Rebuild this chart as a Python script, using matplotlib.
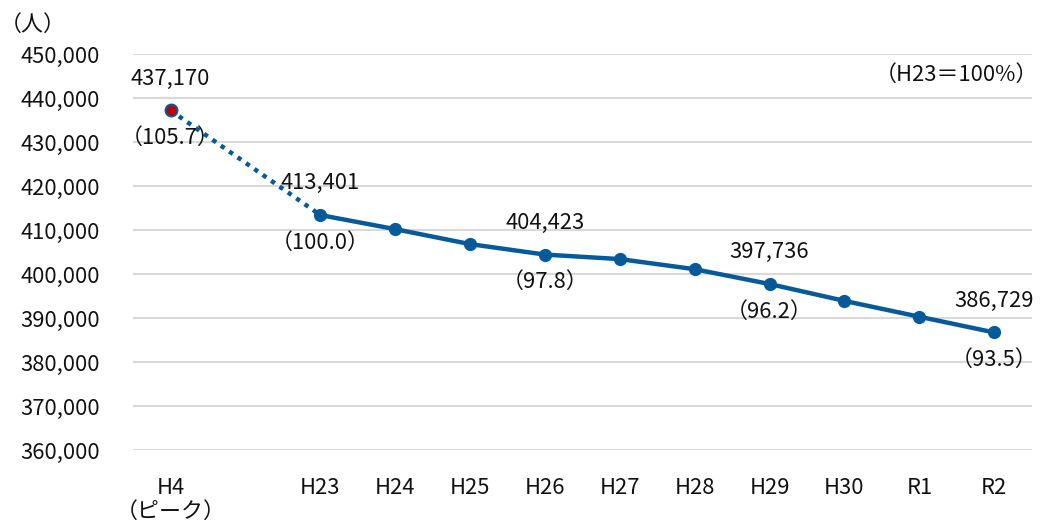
import matplotlib
matplotlib.use("Agg")
from matplotlib import pyplot as plt

plt.rcParams['font.family'] = ['Noto Sans CJK JP', 'DejaVu Sans']

# year labels and population (people); H4 is the peak year
years = ["H4\n（ピーク）", "H23", "H24", "H25", "H26", "H27", "H28", "H29", "H30", "R1", "R2"]
positions = [0, 2, 3, 4, 5, 6, 7, 8, 9, 10, 11]
population = [437170, 413401, 410200, 406800, 404423, 403400, 401100, 397736, 393900, 390300, 386729]

# index values (H23 = 100) shown for labelled points
labelled = {0: 105.7, 1: 100.0, 4: 97.8, 7: 96.2, 10: 93.5}

line_color = "#065a99"
fs = 15.8


def main():
    fig = plt.figure(figsize=(10.4, 5.24), dpi=100)
    ax = fig.add_axes([0.128, 0.141, 0.864, 0.756])

    # peak -> H23 as a dotted segment, H23 onwards solid
    ax.plot(positions[:2], population[:2], color=line_color, lw=3.2,
            linestyle=(0, (1, 1.3)), zorder=2)
    ax.plot(positions[1:], population[1:], color=line_color, lw=3.2,
            marker="o", markersize=8.5, zorder=3)
    ax.plot(positions[0], population[0], marker="o", markersize=8.5,
            markerfacecolor="#c00000", markeredgecolor=line_color,
            markeredgewidth=1.5, linestyle="none", zorder=4)

    for i, idx in labelled.items():
        x, y = positions[i], population[i]
        ax.annotate(f"{y:,}", (x, y), xytext=(0, 15), textcoords="offset points",
                    ha="center", va="bottom", fontsize=fs, color="#111111")
        ax.annotate(f"（{idx:.1f}）", (x, y), xytext=(0, -12), textcoords="offset points",
                    ha="center", va="top", fontsize=fs, color="#111111")

    ax.set_xlim(-0.5, 11.5)
    ax.set_ylim(360000, 450000)
    ax.set_yticks(range(360000, 450001, 10000))
    ax.yaxis.set_major_formatter(matplotlib.ticker.FuncFormatter(lambda v, p: f"{int(v):,}"))
    ax.set_xticks(positions)
    ax.set_xticklabels(years, linespacing=1.15)

    ax.tick_params(axis="y", length=0, pad=24, labelsize=fs, labelcolor="#111111")
    ax.tick_params(axis="x", length=0, pad=19, labelsize=fs, labelcolor="#111111")
    ax.grid(axis="y", color="#d9d9d9", lw=1.5)
    ax.set_axisbelow(True)
    for s in ax.spines.values():
        s.set_visible(False)

    fig.text(0.0, 0.953, "（人）", fontsize=fs, ha="left", va="center", color="#111111")
    fig.text(0.998, 0.857, "（H23＝100%）", fontsize=fs, ha="right", va="center", color="#111111")

    fig.savefig("out.png", dpi=100)


if __name__ == '__main__':
    main()
